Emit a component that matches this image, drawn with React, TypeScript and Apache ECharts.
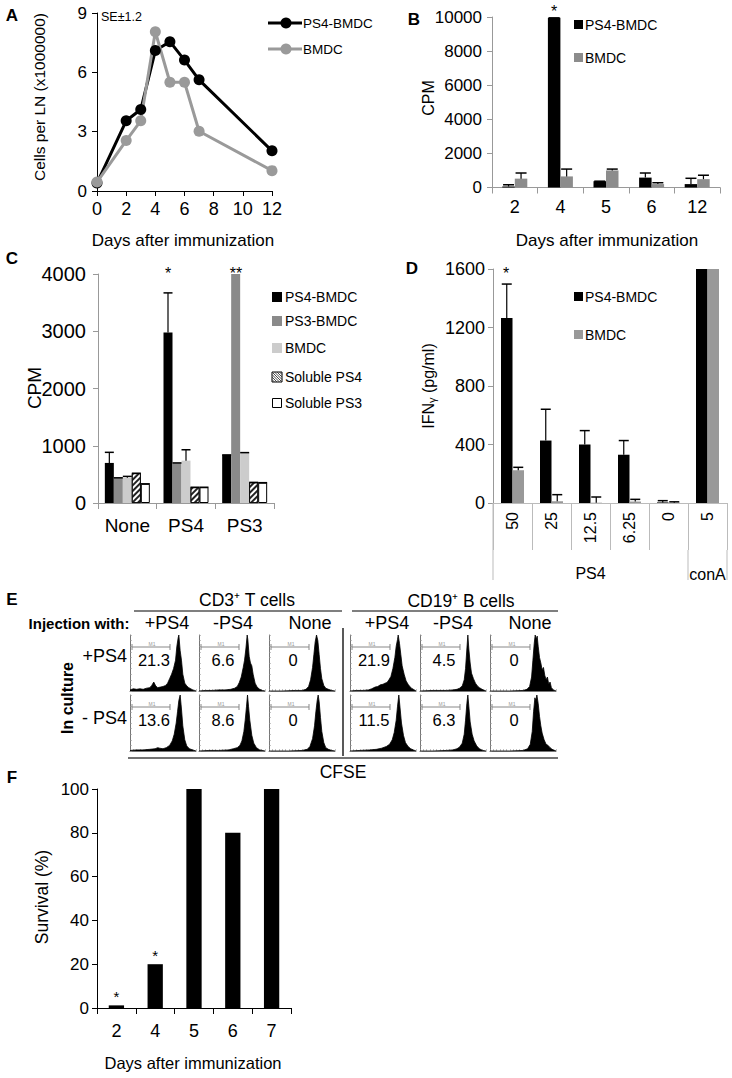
import React, { useEffect, useRef } from "react";
import * as echarts from "echarts";

const FONT = "'Liberation Sans', Arial, Helvetica, sans-serif";

// ---------- Panel A: cells per LN ----------
const aDays = [0, 2, 3, 4, 5, 6, 7, 12];
const aPs4Bmdc = [0.4, 3.55, 4.12, 7.1, 7.55, 6.62, 5.62, 2.03];
const aBmdc = [0.45, 2.55, 3.55, 8.05, 5.5, 5.5, 3.02, 1.03];

// ---------- Panel B: CPM by day ----------
const bDays = ["2", "4", "5", "6", "12"];
const bPs4Bmdc = [60, 9950, 370, 580, 200];
const bPs4BmdcSe = [100, 0, 0, 270, 340];
const bBmdc = [520, 650, 1000, 200, 490];
const bBmdcSe = [330, 430, 80, 80, 230];
const bStars = ["", "*", "", "", ""];

// ---------- Panel C: CPM by stimulus ----------
const cStimuli = ["None", "PS4", "PS3"];
const cPs4Bmdc = [700, 2980, 840];
const cPs4BmdcSe = [185, 690, 0];
const cPs3Bmdc = [440, 700, 4000];
const cPs3BmdcSe = [0, 0, null];
const cBmdc = [440, 740, 880];
const cBmdcSe = [25, 190, 0];
const cSolPs4 = [520, 275, 360];
const cSolPs4Se = [0, 0, 0];
const cSolPs3 = [335, 275, 355];
const cSolPs3Se = [0, 0, 0];

// ---------- Panel D: IFN-gamma ----------
const dDoses = ["50", "25", "12.5", "6.25", "0", "5"];
const dGroups = ["PS4", "conA"];
const dPs4Bmdc = [1265, 427, 400, 330, 4, 1600];
const dPs4BmdcSe = [232, 214, 95, 97, 12, null];
const dBmdc = [224, 12, 2, 10, 2, 1600];
const dBmdcSe = [20, 45, 39, 15, 6, null];

// ---------- Panel E: CFSE histograms ----------
const eCellTypes = ["CD3\u207A T cells", "CD19\u207A B cells"];
const eInjection = ["+PS4", "-PS4", "None"];
const eCulture = ["+PS4", "- PS4"];
const eTValues = [[21.3, 6.6, 0], [13.6, 8.6, 0]];
const eBValues = [[21.9, 4.5, 0], [11.5, 6.3, 0]];
const hTpp = [[0,2],[5,4],[10,3],[15,4],[20,3],[25,5],[30,6],[33,10],[36,16],[39,9],[42,6],[46,7],[50,8],[54,10],[57,14],[60,22],[63,30],[66,40],[69,55],[71,80],[73,95],[74,100],[76,72],[78,55],[80,30],[83,14],[86,9],[89,6],[92,4],[95,2],[98,1],[100,0]];
const hTmp = [[0,0],[10,1],[20,1],[30,2],[40,2],[48,3],[54,5],[58,8],[61,15],[64,25],[67,42],[69,55],[71,75],[73,100],[74,92],[76,62],[78,50],[80,45],[82,30],[85,14],[88,7],[92,3],[96,1],[100,0]];
const hTnp = [[0,0],[20,0],[40,1],[50,1],[56,3],[60,8],[63,20],[66,42],[68,65],[70,88],[72,100],[74,90],[76,65],[78,40],[80,22],[83,10],[86,5],[90,3],[95,1],[100,0]];
const hTpm = [[0,1],[10,2],[20,2],[30,3],[38,4],[42,6],[45,5],[50,4],[55,6],[60,10],[64,18],[67,30],[70,50],[72,70],[74,90],[76,100],[78,75],[80,45],[83,20],[86,9],[90,4],[95,2],[100,0]];
const hTmm = [[0,0],[15,1],[30,1],[45,2],[52,4],[58,6],[62,10],[65,18],[68,35],[70,55],[72,80],[73.5,100],[75,80],[77,55],[80,28],[83,14],[87,6],[92,2],[100,0]];
const hTnm = [[0,0],[30,0],[50,1],[58,3],[62,8],[66,22],[69,45],[71,70],[73,90],[74.5,100],[76,88],[78,60],[80,35],[83,15],[86,6],[90,3],[95,1],[100,0]];
const hBpp = [[0,0],[10,1],[20,1],[28,2],[33,4],[38,7],[42,8],[46,11],[50,12],[53,14],[56,15],[59,20],[62,26],[65,40],[68,60],[70,80],[72,92],[73,100],[75,85],[77,65],[79,45],[82,30],[85,18],[88,12],[90,9],[93,5],[96,3],[100,0]];
const hBmp = [[0,0],[20,1],[40,1],[50,2],[56,3],[60,5],[64,9],[67,20],[69,40],[71,75],[72.5,100],[74,75],[76,50],[78,32],[81,22],[84,14],[87,9],[90,6],[94,3],[100,0]];
const hBnp = [[0,0],[30,0],[50,1],[56,3],[60,8],[63,25],[65,55],[67,85],[68.5,100],[70,92],[71.5,98],[73,80],[75,60],[77,50],[79,38],[81,42],[83,28],[85,20],[87,25],[89,12],[91,16],[93,6],[96,2],[100,0]];
const hBpm = [[0,0],[15,1],[30,2],[40,3],[48,5],[55,8],[60,12],[64,20],[67,33],[70,55],[72,80],[74,100],[76,75],[78,50],[81,28],[84,15],[88,8],[92,4],[96,2],[100,0]];
const hBmm = [[0,0],[20,0],[40,1],[50,2],[56,4],[60,7],[64,14],[67,30],[69,55],[71,85],[72.5,100],[74,80],[76,52],[79,30],[82,18],[86,9],[90,4],[95,1],[100,0]];
const hBnm = [[0,0],[30,0],[50,1],[57,4],[61,12],[64,35],[66,70],[68,95],[69.5,90],[71,100],[73,85],[75,62],[77,45],[79,32],[82,20],[85,12],[88,10],[91,6],[94,3],[100,0]];
const eTHists = [[hTpp, hTmp, hTnp], [hTpm, hTmm, hTnm]];
const eBHists = [[hBpp, hBmp, hBnp], [hBpm, hBmm, hBnm]];

// ---------- Panel F: survival ----------
const fDays = ["2", "4", "5", "6", "7"];
const fSurvival = [1.2, 20, 100, 80, 100];
const fStars = ["*", "*", "", "", ""];

// ---------- layout ----------
const GA = { left: 97, top: 13, width: 175, height: 178 };
const GB = { left: 492, top: 17, width: 228, height: 170.5 };
const GC = { left: 98, top: 274, width: 176, height: 229 };
const GD = { left: 493, top: 269, width: 234, height: 234 };
const GF = { left: 97, top: 789, width: 194, height: 219 };
const eBoxX = [130, 199, 269, 350, 420, 490];
const eBoxY = [635, 695];
const eBoxW = 66;
const eBoxH = 56;
const eHeaderX = [167, 233, 310, 387, 453, 530];

const GRAY_B = "#8c8c8c";
const GRAY_A = "#9a9a9a";
const GRAY_C2 = "#8a8a8a";
const GRAY_C3 = "#cccccc";
const GRAY_D = "#999999";

function gridOf(g: any) {
  return { ...g, containLabel: false, outerBoundsMode: "none" };
}

function lbl(size: number, margin: number) {
  return { fontSize: size, color: "#000", fontFamily: FONT, margin };
}

function valueAxis(gi: number, min: number, max: number, interval: number, color: string, size: number, margin: number) {
  return {
    type: "value", gridIndex: gi, min, max, interval,
    axisLine: { show: true, lineStyle: { color, width: 1 } },
    axisTick: { show: true, length: 5, lineStyle: { color } },
    axisLabel: { ...lbl(size, margin), formatter: (v: number) => String(v) },
    splitLine: { show: false },
  };
}

function catAxis(gi: number, data: string[], color: string, size: number, margin: number, extra: any = {}) {
  return {
    type: "category", gridIndex: gi, data, boundaryGap: true,
    axisLine: { show: true, lineStyle: { color, width: 1 } },
    axisTick: { show: true, length: 6, lineStyle: { color } },
    axisLabel: { ...lbl(size, margin), interval: 0 },
    splitLine: { show: false },
    ...extra,
  };
}

function errSeries(ai: number, vals: number[], se: (number | null)[], offset: number, capW: number) {
  const data = vals
    .map((v, i) => (se[i] == null ? null : [i, v, v + (se[i] as number)]))
    .filter((d) => d);
  return {
    type: "custom", xAxisIndex: ai, yAxisIndex: ai, data, z: 5, silent: true,
    encode: { x: 0, y: [1, 2] },
    renderItem: (params: any, api: any) => {
      const i = api.value(0), v = api.value(1), t = api.value(2);
      const p0 = api.coord([i, v]);
      const p1 = api.coord([i, t]);
      const x = p0[0] + offset;
      return {
        type: "group",
        children: [
          { type: "line", shape: { x1: x, y1: p0[1], x2: x, y2: p1[1] }, style: { stroke: "#000", lineWidth: 1.2 } },
          { type: "line", shape: { x1: x - capW / 2, y1: p1[1], x2: x + capW / 2, y2: p1[1] }, style: { stroke: "#000", lineWidth: 1.5 } },
        ],
      };
    },
  };
}

function bar(ai: number, name: string, data: number[], color: string, width: number, extra: any = {}) {
  return {
    type: "bar", name, xAxisIndex: ai, yAxisIndex: ai, data, barWidth: width, barGap: "0%",
    itemStyle: { color }, silent: true, ...extra,
  };
}

function T(x: number, y: number, text: string, o: any = {}) {
  return {
    type: "text", x, y, silent: true, rotation: o.rot || 0, z: 10,
    style: {
      text, fill: o.fill || "#000", fontFamily: FONT, fontSize: o.size || 16,
      fontWeight: o.bold ? "bold" : "normal", align: o.align || "center", verticalAlign: o.valign || "middle",
    },
  };
}
function L(x1: number, y1: number, x2: number, y2: number, color = "#000", w = 1) {
  return { type: "line", silent: true, z: 10, shape: { x1, y1, x2, y2 }, style: { stroke: color, lineWidth: w } };
}
function R(x: number, y: number, w: number, h: number, fill: string, stroke?: string) {
  return { type: "rect", silent: true, z: 10, shape: { x, y, width: w, height: h }, style: { fill, stroke: stroke || null, lineWidth: stroke ? 1 : 0 } };
}

function measure(text: string, size: number) {
  const c = document.createElement("canvas").getContext("2d");
  if (!c) return text.length * size * 0.55;
  c.font = `${size}px ${FONT}`;
  return c.measureText(text).width;
}

function buildOption() {
  const grids: any[] = [gridOf(GA), gridOf(GB), gridOf(GC), gridOf(GD), gridOf(GF)];
  const xAxes: any[] = [];
  const yAxes: any[] = [];
  const series: any[] = [];
  const g: any[] = [];

  // ---- A ----
  xAxes.push({ ...valueAxis(0, 0, 12, 2, "#000", 18, 9) });
  yAxes.push({ ...valueAxis(0, 0, 9, 3, "#000", 17, 10) });
  series.push({
    type: "line", name: "PS4-BMDC", xAxisIndex: 0, yAxisIndex: 0,
    data: aDays.map((d, i) => [d, aPs4Bmdc[i]]),
    symbol: "circle", symbolSize: 11, lineStyle: { color: "#000", width: 3 }, itemStyle: { color: "#000" }, silent: true,
  });
  series.push({
    type: "line", name: "BMDC", xAxisIndex: 0, yAxisIndex: 0,
    data: aDays.map((d, i) => [d, aBmdc[i]]),
    symbol: "circle", symbolSize: 11, lineStyle: { color: GRAY_A, width: 3 }, itemStyle: { color: GRAY_A }, silent: true,
  });

  // ---- B ----
  xAxes.push(catAxis(1, bDays, "#999", 18, 10));
  yAxes.push(valueAxis(1, 0, 10000, 2000, "#999", 17, 10));
  series.push(bar(1, "PS4-BMDC", bPs4Bmdc, "#000", 12.5, {
    label: { show: true, position: "top", distance: -2, formatter: (p: any) => bStars[p.dataIndex], fontSize: 16, color: "#000", fontFamily: FONT },
  }));
  series.push(bar(1, "BMDC", bBmdc, GRAY_B, 12.5));
  series.push(errSeries(1, bPs4Bmdc, bPs4BmdcSe, -6.25, 11));
  series.push(errSeries(1, bBmdc, bBmdcSe, 6.25, 11));

  // ---- C ----
  xAxes.push(catAxis(2, cStimuli, "#999", 19, 13));
  yAxes.push(valueAxis(2, 0, 4000, 1000, "#999", 20, 12));
  series.push(bar(2, "PS4-BMDC", cPs4Bmdc, "#000", 9));
  series.push(bar(2, "PS3-BMDC", cPs3Bmdc, GRAY_C2, 9));
  series.push(bar(2, "BMDC", cBmdc, GRAY_C3, 9));
  series.push(bar(2, "Soluble PS4", cSolPs4, "#ffffff", 9, {
    itemStyle: {
      color: "#ffffff", borderColor: "#000", borderWidth: 0.8,
      decal: { symbol: "rect", symbolSize: 1, color: "#222", dashArrayX: [1, 0], dashArrayY: [1.3, 1.3], rotation: -Math.PI / 4 },
    },
  }));
  series.push(bar(2, "Soluble PS3", cSolPs3, "#ffffff", 9, { itemStyle: { color: "#ffffff", borderColor: "#000", borderWidth: 1 } }));
  series.push(errSeries(2, cPs4Bmdc, cPs4BmdcSe, -18, 9));
  series.push(errSeries(2, cPs3Bmdc, cPs3BmdcSe, -9, 9));
  series.push(errSeries(2, cBmdc, cBmdcSe, 0, 9));
  series.push(errSeries(2, cSolPs4, cSolPs4Se, 9, 9));
  series.push(errSeries(2, cSolPs3, cSolPs3Se, 18, 9));

  // ---- D ----
  xAxes.push(catAxis(3, dDoses, "#bbb", 16, 10, {
    axisLabel: { ...lbl(16, 9), interval: 0, rotate: 90 },
    axisTick: { show: true, length: 47, lineStyle: { color: "#bbb" } },
  }));
  yAxes.push(valueAxis(3, 0, 1600, 400, "#999", 18, 8));
  series.push(bar(3, "PS4-BMDC", dPs4Bmdc, "#000", 11.5));
  series.push(bar(3, "BMDC", dBmdc, GRAY_D, 11.5));
  series.push(errSeries(3, dPs4Bmdc, dPs4BmdcSe, -5.75, 10));
  series.push(errSeries(3, dBmdc, dBmdcSe, 5.75, 10));

  // ---- F ----
  xAxes.push(catAxis(4, fDays, "#000", 18, 14));
  yAxes.push(valueAxis(4, 0, 100, 20, "#000", 17, 8));
  series.push(bar(4, "Survival", fSurvival, "#000", 15.3, {
    label: { show: true, position: "top", distance: 1, formatter: (p: any) => fStars[p.dataIndex], fontSize: 15, color: "#000", fontFamily: FONT },
  }));

  // ---- E histograms ----
  for (let r = 0; r < 2; r++) {
    for (let c = 0; c < 6; c++) {
      const gi = grids.length;
      grids.push(gridOf({ left: eBoxX[c], top: eBoxY[r], width: eBoxW, height: eBoxH }));
      const hist = c < 3 ? eTHists[r][c] : eBHists[r][c - 3];
      xAxes.push({
        type: "value", gridIndex: gi, min: 0, max: 100, interval: 5,
        axisLine: { show: true, lineStyle: { color: "#777", width: 1 } },
        axisTick: { show: true, inside: true, length: 2, lineStyle: { color: "#999", width: 0.6 } },
        axisLabel: { show: false }, splitLine: { show: false },
      });
      yAxes.push({
        type: "value", gridIndex: gi, min: 0, max: 100, interval: 10,
        axisLine: { show: true, lineStyle: { color: "#777", width: 1 } },
        axisTick: { show: true, inside: true, length: 2, lineStyle: { color: "#999", width: 0.6 } },
        axisLabel: { show: false }, splitLine: { show: false },
      });
      series.push({
        type: "line", xAxisIndex: gi, yAxisIndex: gi, data: hist, symbol: "none", silent: true,
        lineStyle: { color: "#000", width: 0.8 }, areaStyle: { color: "#000", opacity: 1 },
      });
      // gate marker
      const bx = eBoxX[c], by = eBoxY[r];
      g.push(L(bx + 2, by + 12, bx + 40, by + 12, "#888", 1));
      g.push(L(bx + 2, by + 9, bx + 2, by + 15, "#888", 1));
      g.push(L(bx + 40, by + 9, bx + 40, by + 15, "#888", 1));
      g.push(T(bx + 22, by + 9, "M1", { size: 5, fill: "#999999" }));
      const v = c < 3 ? eTValues[r][c] : eBValues[r][c - 3];
      g.push(T(bx + 24, by + 25, String(v), { size: 16.5 }));
    }
  }

  // ---- graphic texts ----
  g.push(T(12, 15, "A", { bold: true, size: 17 }));
  g.push(T(414, 19, "B", { bold: true, size: 17 }));
  g.push(T(12, 258, "C", { bold: true, size: 17 }));
  g.push(T(412, 268, "D", { bold: true, size: 17 }));
  g.push(T(12, 599, "E", { bold: true, size: 17 }));
  g.push(T(12, 777, "F", { bold: true, size: 17 }));

  // A annotations + legend
  g.push(T(101, 17, "SE\u00B11.2", { size: 12.5, align: "left" }));
  g.push(L(268, 23, 302, 23, "#000", 3));
  g.push({ type: "circle", silent: true, z: 10, shape: { cx: 286, cy: 23, r: 5.5 }, style: { fill: "#000" } });
  g.push(T(303, 23, "PS4-BMDC", { size: 13.5, align: "left" }));
  g.push(L(268, 49, 302, 49, GRAY_A, 3));
  g.push({ type: "circle", silent: true, z: 10, shape: { cx: 286, cy: 49, r: 5.5 }, style: { fill: GRAY_A } });
  g.push(T(303, 49, "BMDC", { size: 13.5, align: "left" }));
  g.push(T(39, 97, "Cells per LN (x1000000)", { size: 15.5, rot: Math.PI / 2 }));
  g.push(T(183, 240, "Days after immunization", { size: 17 }));

  // B legend + names
  g.push(R(574, 20, 9, 9, "#000"));
  g.push(T(585, 24.5, "PS4-BMDC", { size: 14, align: "left" }));
  g.push(R(574, 53, 9, 9, GRAY_B));
  g.push(T(585, 57.5, "BMDC", { size: 14, align: "left" }));
  g.push(T(428, 98, "CPM", { size: 16, rot: Math.PI / 2 }));
  g.push(T(607, 240, "Days after immunization", { size: 17 }));

  // C legend + names + stars
  const cLegY = [297, 321, 348, 377, 403];
  const cLegNames = ["PS4-BMDC", "PS3-BMDC", "BMDC", "Soluble PS4", "Soluble PS3"];
  g.push(R(272, cLegY[0] - 5, 10, 10, "#000"));
  g.push(R(272, cLegY[1] - 5, 10, 10, GRAY_C2));
  g.push(R(272, cLegY[2] - 5, 10, 10, GRAY_C3));
  g.push(R(272, cLegY[3] - 5, 10, 10, "#fff", "#000"));
  for (let k = 0; k < 10; k += 2.5) {
    g.push(L(272 + k, cLegY[3] - 5, 282, cLegY[3] + 5 - k, "#333", 0.9));
    if (k > 0) g.push(L(272, cLegY[3] - 5 + k, 282 - k, cLegY[3] + 5, "#333", 0.9));
  }
  g.push(R(272.5, cLegY[4] - 4.5, 9, 9, "#fff", "#000"));
  cLegNames.forEach((n, i) => g.push(T(285, cLegY[i], n, { size: 14, align: "left" })));
  g.push(T(34, 388, "CPM", { size: 19, rot: Math.PI / 2 }));
  g.push(T(168, 273, "*", { size: 16 }));
  g.push(T(236, 273, "**", { size: 16 }));

  // D legend + names + groups
  g.push(R(574, 292, 9, 9, "#000"));
  g.push(T(585, 296.5, "PS4-BMDC", { size: 14, align: "left" }));
  g.push(R(574, 330, 9, 9, GRAY_D));
  g.push(T(585, 335, "BMDC", { size: 14, align: "left" }));
  // IFN-gamma axis name, rotated, built from three centred pieces
  {
    const s1 = 16, s2 = 11;
    const p1 = "IFN", p2 = "\u03B3", p3 = "(pg/ml)";
    const gap = measure(" ", s1);
    const w1 = measure(p1, s1), w2 = measure(p2, s2), w3 = measure(p3, s1);
    const total = w1 + w2 + gap + w3;
    const cx = 428, cy = 386;
    const yStart = cy + total / 2;
    g.push(T(cx, yStart - w1 / 2, p1, { size: s1, rot: Math.PI / 2 }));
    g.push(T(cx + 4, yStart - w1 - w2 / 2, p2, { size: s2, rot: Math.PI / 2 }));
    g.push(T(cx, yStart - w1 - w2 - gap - w3 / 2, p3, { size: s1, rot: Math.PI / 2 }));
  }
  g.push(T(506, 273, "*", { size: 16 }));
  const dStep = GD.width / dDoses.length;
  const dBottom = GD.top + GD.height;
  g.push(L(GD.left, dBottom, GD.left, dBottom + 77, "#bbb", 1));
  g.push(L(GD.left + dStep * 5, dBottom + 47, GD.left + dStep * 5, dBottom + 77, "#bbb", 1));
  g.push(L(GD.left + dStep * 6, dBottom + 47, GD.left + dStep * 6, dBottom + 77, "#bbb", 1));
  g.push(T(GD.left + dStep * 2.5, 573, dGroups[0], { size: 16 }));
  g.push(T(GD.left + dStep * 5.5, 574, dGroups[1], { size: 16 }));

  // E labels
  g.push(T(247, 600, eCellTypes[0], { size: 17.5 }));
  g.push(L(134, 611, 342, 611, "#000", 1.2));
  g.push(T(461, 601, eCellTypes[1], { size: 17.5 }));
  g.push(L(352, 611, 558, 611, "#000", 1.2));
  g.push(T(79, 623, "Injection with:", { size: 15, bold: true }));
  eHeaderX.forEach((x, i) => g.push(T(x, 623, eInjection[i % 3], { size: 18 })));
  g.push(T(127, 656, eCulture[0], { size: 18, align: "right" }));
  g.push(T(127, 718, eCulture[1], { size: 18, align: "right" }));
  g.push(T(67, 698, "In culture", { size: 16, bold: true, rot: Math.PI / 2 }));
  g.push(L(343, 628, 343, 756, "#222", 1.5));
  g.push(L(128, 758, 558, 758, "#444", 1.5));
  g.push(T(343, 772, "CFSE", { size: 17.5 }));

  // F names
  g.push(T(42, 897, "Survival (%)", { size: 17.5, rot: Math.PI / 2 }));
  g.push(T(193, 1063, "Days after immunization", { size: 16.5 }));

  return {
    animation: false,
    backgroundColor: "#ffffff",
    textStyle: { fontFamily: FONT },
    grid: grids,
    xAxis: xAxes,
    yAxis: yAxes,
    series,
    graphic: { elements: g },
  };
}

export default function App() {
  const ref = useRef<HTMLDivElement>(null);
  useEffect(() => {
    const chart = echarts.init(ref.current as HTMLDivElement, null, { renderer: "svg" });
    chart.setOption(buildOption() as any);
    return () => chart.dispose();
  }, []);
  return (
    <div
      ref={ref}
      style={{ position: "absolute", left: 0, top: 0, width: 732, height: 1078, background: "#fff" }}
    />
  );
}
